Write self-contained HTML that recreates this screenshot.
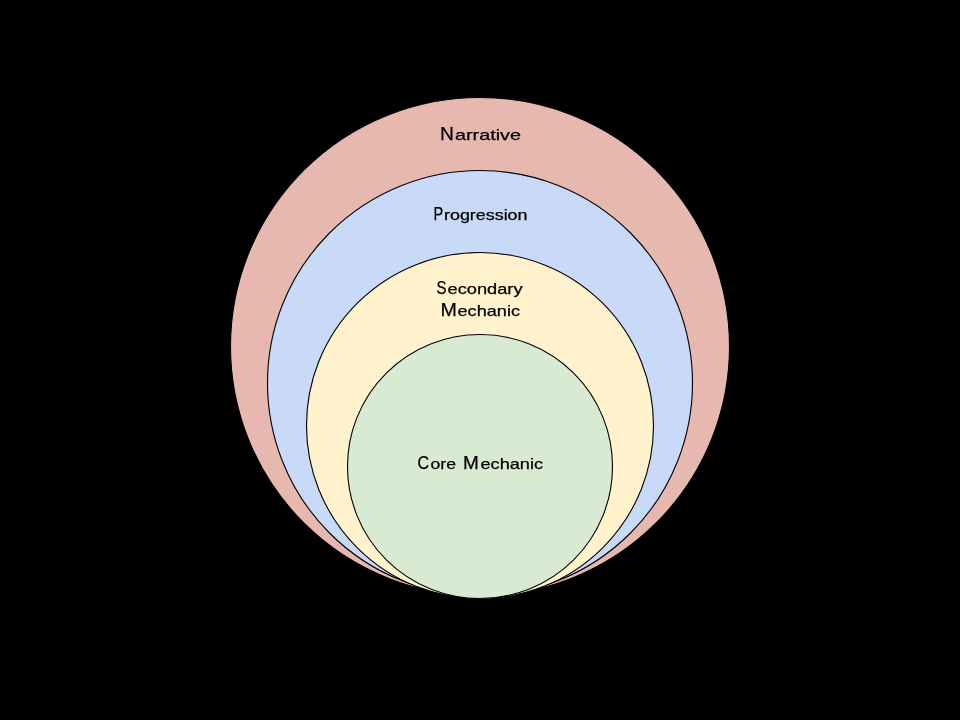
<!DOCTYPE html>
<html><head><meta charset="utf-8">
<style>
html,body{margin:0;padding:0;background:#000;}
body{width:960px;height:720px;overflow:hidden;}
svg{display:block;will-change:transform;}
text{font-family:"Liberation Sans",sans-serif;fill:#000;stroke:#000;stroke-width:0.25px;}
</style></head>
<body>
<svg width="960" height="720" viewBox="0 0 960 720">
<rect width="960" height="720" fill="#000"/>
<ellipse cx="480" cy="346.6" rx="249.5" ry="249.1" fill="#e6b8af" stroke="#000" stroke-width="1.1"/>
<ellipse cx="480" cy="383" rx="212.5" ry="212.5" fill="#c9daf8" stroke="#000" stroke-width="1.1"/>
<ellipse cx="480" cy="425.5" rx="173.5" ry="173" fill="#fff2cc" stroke="#000" stroke-width="1.1"/>
<ellipse cx="480" cy="466.5" rx="132.5" ry="132" fill="#d9ead3" stroke="#000" stroke-width="1.1"/>
<text x="440.00" y="140.1" font-size="19.2" textLength="13.86" lengthAdjust="spacingAndGlyphs">N</text>
<text x="455.00" y="140.1" font-size="15.0" textLength="66.03" lengthAdjust="spacingAndGlyphs">arrative</text>
<text x="433.50" y="219.7" font-size="19.2" textLength="9.69" lengthAdjust="spacingAndGlyphs">P</text>
<text x="444.00" y="219.7" font-size="15.0" textLength="83.52" lengthAdjust="spacingAndGlyphs">rogression</text>
<text x="436.50" y="293.5" font-size="19.2" textLength="10.05" lengthAdjust="spacingAndGlyphs">S</text>
<text x="447.50" y="293.5" font-size="15.0" textLength="75.01" lengthAdjust="spacingAndGlyphs">econdary</text>
<text x="440.50" y="316.0" font-size="19.2" textLength="16.37" lengthAdjust="spacingAndGlyphs">M</text>
<text x="457.50" y="316.0" font-size="15.0" textLength="62.51" lengthAdjust="spacingAndGlyphs">echanic</text>
<text x="417.50" y="469.0" font-size="19.2" textLength="11.59" lengthAdjust="spacingAndGlyphs">C</text>
<text x="430.50" y="469.0" font-size="15.0" textLength="25.54" lengthAdjust="spacingAndGlyphs">ore</text>
<text x="463.00" y="469.0" font-size="19.2" textLength="15.80" lengthAdjust="spacingAndGlyphs">M</text>
<text x="480.50" y="469.0" font-size="15.0" textLength="62.53" lengthAdjust="spacingAndGlyphs">echanic</text>
</svg>
</body></html>
